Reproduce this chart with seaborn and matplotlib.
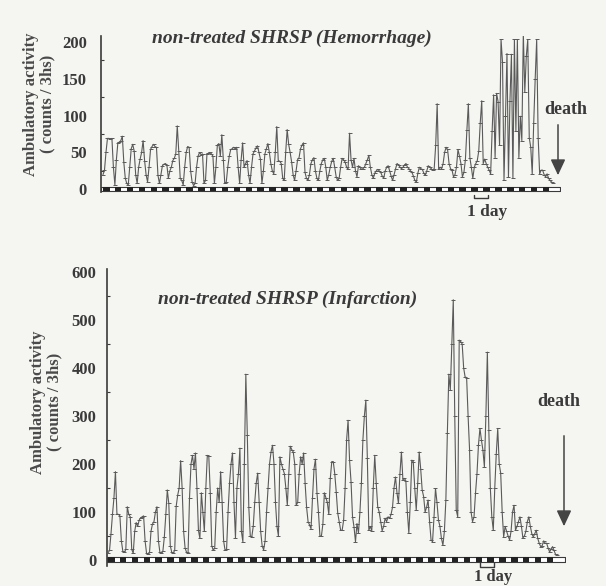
import numpy as np
import pandas as pd
import matplotlib
matplotlib.use("Agg")
import matplotlib.pyplot as plt
import seaborn as sns

# ---------------- data (counts / 3 h, 8 bins per day) ----------------
hemorrhage_activity = [
    20, 26, 50, 69, 69, 68, 69, 30,
    6, 40, 63, 64, 66, 72, 37, 15,
    8, 6, 30, 55, 61, 52, 20, 8,
    30, 41, 50, 66, 39, 20, 10, 30,
    54, 58, 61, 58, 57, 19, 8, 20,
    32, 34, 35, 33, 15, 25, 30, 39,
    42, 48, 86, 52, 15, 12, 6, 30,
    50, 58, 57, 25, 10, 5, 8, 30,
    45, 50, 47, 48, 8, 12, 48, 49,
    50, 48, 45, 8, 30, 60, 62, 45,
    74, 40, 8, 10, 30, 45, 54, 55,
    57, 55, 57, 30, 8, 40, 63, 30,
    35, 39, 20, 8, 30, 48, 52, 56,
    59, 50, 41, 8, 25, 48, 55, 62,
    50, 35, 25, 21, 50, 85, 39, 38,
    35, 15, 12, 50, 81, 61, 50, 37,
    20, 12, 25, 40, 43, 55, 60, 63,
    23, 15, 12, 20, 35, 40, 43, 25,
    15, 12, 25, 35, 40, 42, 30, 12,
    20, 30, 38, 42, 30, 17, 12, 15,
    30, 42, 40, 37, 30, 27, 76, 40,
    30, 42, 25, 17, 32, 30, 27, 28,
    30, 35, 40, 46, 30, 20, 15, 22,
    25, 27, 25, 23, 18, 15, 25, 30,
    32, 25, 18, 12, 20, 28, 35, 33,
    30, 28, 30, 33, 35, 30, 28, 25,
    23, 18, 12, 10, 22, 30, 28, 27,
    22, 19, 25, 32, 30, 28, 26, 28,
    60, 116, 27, 30, 28, 35, 50, 57,
    54, 35, 28, 26, 17, 20, 30, 54,
    45, 35, 17, 23, 40, 80, 116, 43,
    30, 15, 30, 35, 39, 52, 90, 120,
    35, 41, 35, 30, 26, 21, 79, 128,
    43, 130, 119, 60, 203, 172, 12, 100,
    184, 17, 120, 183, 15, 203, 79, 203,
    43, 99, 66, 211, 132, 180, 203, 70,
    57, 21, 90, 150, 203, 70, 21, 26,
    26, 20, 17, 21, 15, 12, 10, 8,
]

infarction_activity = [
    15, 20, 55, 95, 130, 184, 96, 95,
    92, 40, 18, 16, 22, 111, 95, 90,
    22, 14, 60, 78, 70, 83, 88, 90,
    92, 40, 14, 12, 16, 60, 75, 80,
    100, 111, 40, 16, 14, 18, 48, 95,
    146, 118, 30, 16, 15, 20, 112, 135,
    150, 207, 150, 60, 25, 16, 14, 130,
    200, 218, 190, 223, 150, 62, 45, 140,
    100, 60, 150, 218, 216, 140, 30, 20,
    25, 100, 150, 120, 184, 120, 40, 20,
    22, 100, 160, 200, 223, 120, 46, 150,
    180, 233, 60, 38, 200, 387, 260, 110,
    50, 48, 70, 120, 160, 181, 120, 60,
    30, 21, 40, 100, 150, 200, 225, 239,
    200, 120, 70, 50, 215, 200, 190, 180,
    150, 114, 180, 237, 230, 225, 200, 114,
    120, 180, 215, 200, 223, 160, 110, 80,
    73, 65, 130, 190, 210, 140, 100, 50,
    50, 75, 140, 130, 120, 95, 170, 205,
    205, 180, 142, 98, 80, 62, 62, 83,
    150, 250, 291, 208, 163, 90, 69, 38,
    76, 56, 100, 160, 250, 300, 333, 212,
    62, 70, 61, 150, 218, 160, 111, 100,
    80, 61, 70, 87, 80, 90, 87, 95,
    110, 150, 173, 140, 118, 180, 225, 167,
    170, 165, 100, 56, 120, 208, 205, 150,
    104, 160, 225, 190, 146, 132, 100, 110,
    125, 80, 42, 38, 90, 149, 120, 83,
    70, 45, 31, 60, 125, 264, 387, 354,
    450, 542, 300, 104, 90, 458, 455, 450,
    400, 381, 380, 300, 229, 100, 80, 90,
    139, 180, 240, 274, 250, 229, 194, 300,
    433, 270, 150, 90, 62, 150, 220, 274,
    200, 181, 100, 48, 70, 60, 50, 42,
    60, 100, 114, 62, 70, 80, 90, 70,
    46, 50, 60, 80, 90, 70, 55, 48,
    55, 62, 45, 35, 28, 30, 40, 35,
    35, 25, 17, 22, 28, 20, 12, 10,
]

bins_per_day = 8
titles = ["non-treated SHRSP (Hemorrhage)", "non-treated SHRSP (Infarction)"]
ylabel = "Ambulatory activity\n( counts / 3hs)"
top_ticks = [0, 50, 100, 150, 200]
bottom_ticks = [0, 100, 200, 300, 400, 500, 600]

# ---------------- style ----------------
sns.set_theme(style="white")
plt.rcParams["font.family"] = ["Liberation Serif", "DejaVu Serif"]
ink = "#3a3a3a"
line_col = "#5a5a5a"
bg = "#f5f5f1"

fig = plt.figure(figsize=(6.06, 5.86), dpi=100, facecolor=bg)
W, H = 606, 586


def add_axes(l, t, r, b):
    return fig.add_axes([l / W, 1 - b / H, (r - l) / W, (b - t) / H])


ax1 = add_axes(101, 35.8, 560, 192.3)
ax2 = add_axes(107, 269.0, 565, 565.8)


def draw_panel(ax, values, ylim, xlim, ticks, minor, bar_y, bar_h, pad):
    df = pd.DataFrame({"bin": np.arange(len(values)), "activity": values})
    sns.lineplot(data=df, x="bin", y="activity", ax=ax, estimator=None,
                 color=line_col, linewidth=0.8, marker="_", markersize=3,
                 markeredgewidth=0.7, markeredgecolor=line_col, zorder=3)
    ax.set_facecolor("none")
    ax.set_xlim(*xlim)
    ax.set_ylim(*ylim)
    ax.set_xlabel("")
    ax.set_ylabel("")
    for s in ["top", "right", "bottom"]:
        ax.spines[s].set_visible(False)
    ax.spines["left"].set_color(ink)
    ax.spines["left"].set_linewidth(1.2)
    ax.set_xticks([])
    ax.set_yticks(ticks)
    ax.set_yticks(minor, minor=True)
    ax.tick_params(axis="y", which="major", direction="in", length=3, width=1,
                   color=ink, pad=pad, labelsize=12, labelcolor=ink)
    ax.tick_params(axis="y", which="minor", direction="in", length=2, width=0.8,
                   color=ink, left=True)
    for lab in ax.get_yticklabels():
        lab.set_fontweight("bold")
    # light/dark bar
    ndays = len(values) // bins_per_day
    ax.broken_barh([(xlim[0], xlim[1] - xlim[0])], (bar_y, bar_h),
                   facecolors="white", edgecolors=ink, linewidth=0.8, zorder=4)
    dark = [(d * bins_per_day, bins_per_day * 0.55) for d in range(ndays)]
    ax.broken_barh(dark, (bar_y, bar_h), facecolors="#222222",
                   edgecolors="none", zorder=5)


draw_panel(ax1, hemorrhage_activity, (-4, 208), (-1.35, 307.7), top_ticks,
           np.arange(0, 201, 25), -2.5, 5.5, 10)
draw_panel(ax2, infarction_activity, (-12, 606), (-0.7, 308.4), bottom_ticks,
           np.arange(0, 601, 50), -4, 11, 7.5)


def fx(px):
    return px / W


def fy(py):
    return 1 - py / H


# titles
fig.text(fx(292), fy(38), titles[0], ha="center", va="center",
         fontsize=14, fontweight="bold", fontstyle="italic", color=ink)
fig.text(fx(288), fy(299), titles[1], ha="center", va="center",
         fontsize=14, fontweight="bold", fontstyle="italic", color=ink)

# y labels
fig.text(fx(39), fy(104), ylabel, ha="center", va="center", rotation=90,
         fontsize=12, fontweight="bold", color="#4a4a4a",
         multialignment="center", linespacing=1.05)
fig.text(fx(46), fy(402), ylabel, ha="center", va="center", rotation=90,
         fontsize=12, fontweight="bold", color="#4a4a4a",
         multialignment="center", linespacing=1.05)

# death labels and arrows
fig.text(fx(566), fy(109), "death", ha="center", va="center",
         fontsize=13, fontweight="bold", color=ink)
fig.text(fx(559), fy(401), "death", ha="center", va="center",
         fontsize=13, fontweight="bold", color=ink)
for x, y0, y1 in [(558, 122, 178), (564, 433, 529)]:
    fig.add_artist(matplotlib.patches.FancyArrowPatch(
        (fx(x), fy(y0)), (fx(x), fy(y1)), transform=fig.transFigure,
        arrowstyle="-|>,head_length=6,head_width=2.8", color="#444444",
        linewidth=1.1, mutation_scale=1.6))

# 1 day brackets
for ax, x0, yb, yt in [(ax1, 250, -12.2, -7.7), (ax2, 251, -14, -5)]:
    x1 = x0 + bins_per_day * 1.15
    ax.plot([x0, x0, x1, x1], [yt, yb, yb, yt], color=ink, lw=1.0,
            clip_on=False)
fig.text(fx(487), fy(211.5), "1 day", ha="center", va="center",
         fontsize=12.5, fontweight="bold", color=ink)
fig.text(fx(493), fy(585), "1 day", ha="center", va="bottom",
         fontsize=12, fontweight="bold", color=ink)

fig.savefig("out.png", dpi=100, facecolor=bg)
